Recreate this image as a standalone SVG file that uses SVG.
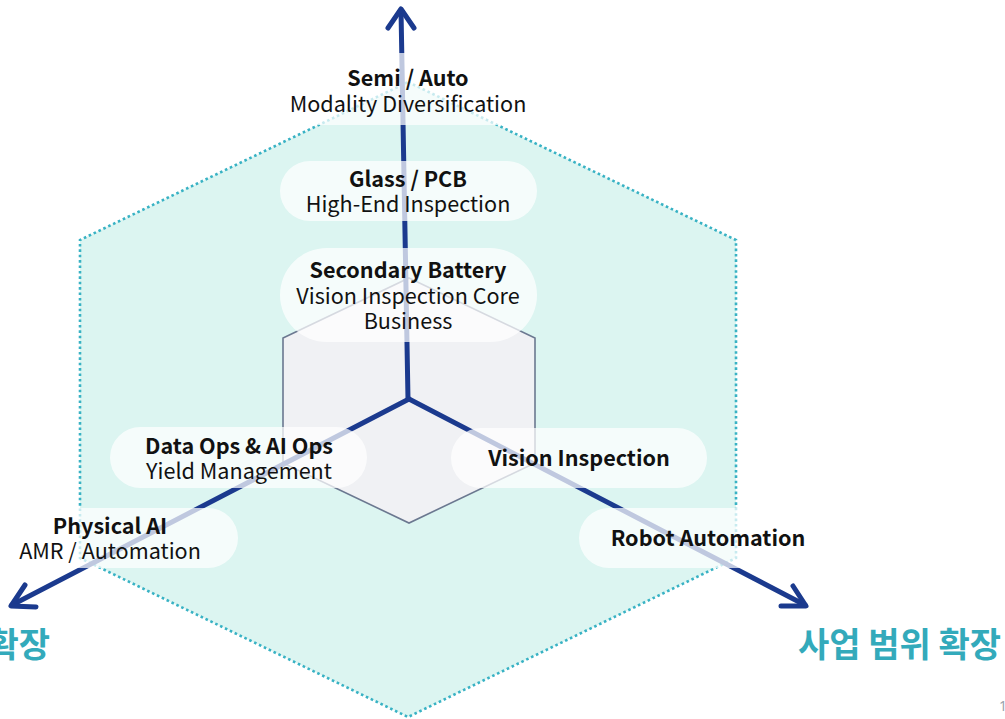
<svg xmlns="http://www.w3.org/2000/svg" width="1005" height="719" viewBox="0 0 1005 719">
  <style>
    .t { font-family: "Noto Sans CJK KR", "Noto Sans", sans-serif; font-size: 21.6px; fill: #111; text-anchor: middle; }
    .b { font-weight: 700; }
    .pill { fill: #ffffff; fill-opacity: 0.72; }
    .axis { fill: none; stroke: #1b3a8e; stroke-width: 5; stroke-linecap: round; stroke-linejoin: round; }
    .ko { font-family: "Noto Sans CJK KR", sans-serif; font-size: 34px; font-weight: 700; fill: #33aabb; }
  </style>
  <rect width="1005" height="719" fill="#ffffff"/>

  <!-- outer scope hexagon -->
  <g id="outer-hex">
    <polygon points="408,82 736,240 736,558 408,717 80,558 80,240" fill="#dcf5f1" stroke="#38b2c4" stroke-width="2.6" stroke-dasharray="2.6 2.8"/>
  </g>

  <!-- core hexagon -->
  <g id="core-hex">
    <polygon points="409,278 535,338 535,463 409,523 283,463 283,338" fill="#f0f1f4" stroke="#6b7890" stroke-width="1.6"/>
  </g>

  <!-- three expansion axes -->
  <g id="connectors">
    <path class="axis" d="M408,399 L401,10"/>
    <path class="axis" d="M388,28 L401,9 L414,28"/>
    <path class="axis" d="M409,399 L12,605"/>
    <path class="axis" d="M25,585 L11,606 L36,607"/>
    <path class="axis" d="M409,399 L805,605"/>
    <path class="axis" d="M793,586 L806,606 L781,606"/>
  </g>

  <g id="semi-auto">
    <rect class="pill" x="280" y="53" width="257" height="72" rx="36"/>
    <text class="t b" x="408" y="86">Semi / Auto</text>
    <text class="t" x="408" y="112">Modality Diversification</text>
  </g>

  <g id="glass-pcb">
    <rect class="pill" x="280" y="161" width="257" height="60" rx="30"/>
    <text class="t b" x="408" y="187">Glass / PCB</text>
    <text class="t" x="408" y="212">High-End Inspection</text>
  </g>

  <g id="secondary-battery">
    <rect class="pill" x="280" y="248" width="257" height="94" rx="47"/>
    <text class="t b" x="408" y="278">Secondary Battery</text>
    <text class="t" x="408" y="304">Vision Inspection Core</text>
    <text class="t" x="408" y="329">Business</text>
  </g>

  <g id="data-ai-ops">
    <rect class="pill" x="110" y="427" width="257" height="61" rx="30.5"/>
    <text class="t b" x="239" y="454">Data Ops &amp; AI Ops</text>
    <text class="t" x="239" y="479">Yield Management</text>
  </g>

  <g id="physical-ai">
    <rect class="pill" x="-19" y="508" width="257" height="60" rx="30"/>
    <text class="t b" x="110" y="534">Physical AI</text>
    <text class="t" x="110" y="559">AMR / Automation</text>
  </g>

  <g id="vision-inspection">
    <rect class="pill" x="451" y="428" width="256" height="60" rx="30"/>
    <text class="t b" x="579" y="466">Vision Inspection</text>
  </g>

  <g id="robot-automation">
    <rect class="pill" x="579" y="508" width="257" height="60" rx="30"/>
    <text class="t b" x="708" y="546">Robot Automation</text>
  </g>

  <g id="axis-labels">
    <text class="ko" x="50" y="657" text-anchor="end">확장</text>
    <text class="ko" x="798" y="657">사업 범위 확장</text>
    <text x="999" y="711" font-family="Noto Sans, sans-serif" font-size="14" fill="#9aa3ad">1</text>
  </g>
</svg>
